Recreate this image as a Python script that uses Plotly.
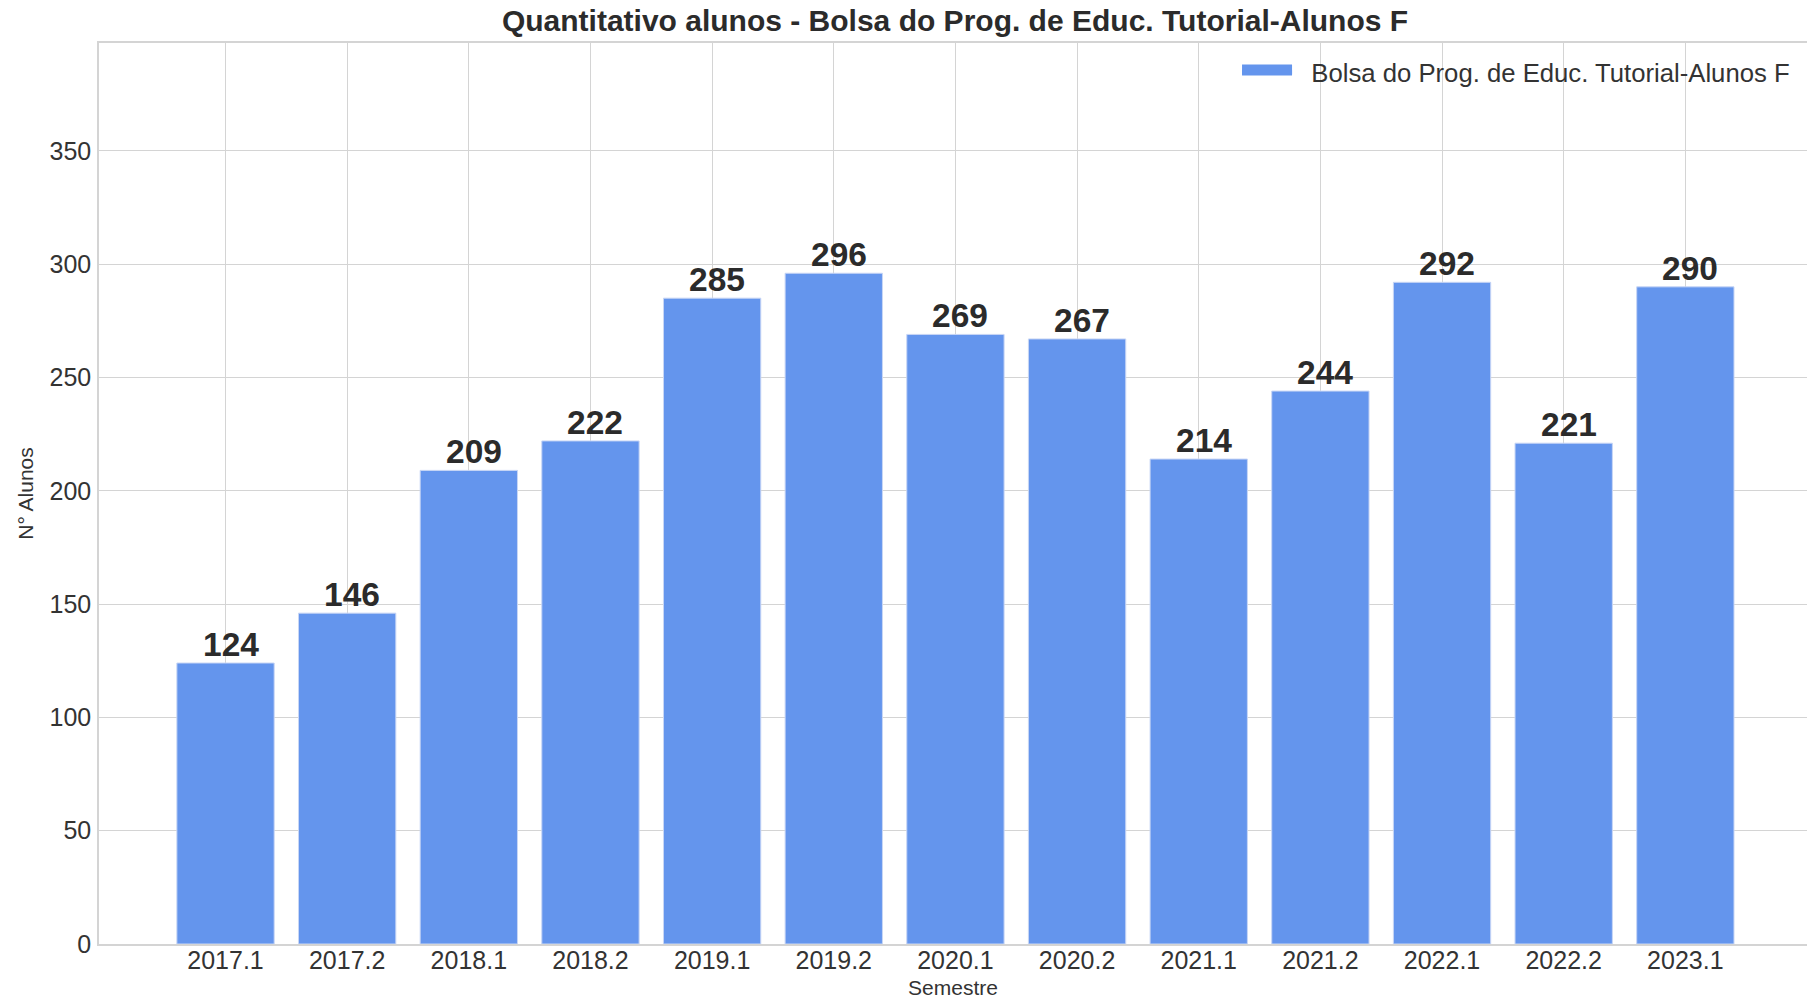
import plotly.graph_objects as go

semestres = ["2017.1", "2017.2", "2018.1", "2018.2", "2019.1", "2019.2", "2020.1",
             "2020.2", "2021.1", "2021.2", "2022.1", "2022.2", "2023.1"]
alunos = [124, 146, 209, 222, 285, 296, 269, 267, 214, 244, 292, 221, 290]
serie_nome = "Bolsa do Prog. de Educ. Tutorial-Alunos F"
titulo = "Quantitativo alunos - Bolsa do Prog. de Educ. Tutorial-Alunos F"
y_ticks = [0, 50, 100, 150, 200, 250, 300, 350]

FONT = "Liberation Sans, Arial, sans-serif"
GRID = "#d4d4d4"
TXT = "#2b2b2b"
BAR = "#6495ED"

xs = list(range(len(semestres)))

fig = go.Figure()
fig.add_trace(go.Bar(
    x=xs,
    y=alunos,
    name=serie_nome,
    width=0.8,
    marker=dict(color=BAR, line=dict(color="#c8d6f5", width=1)),
    showlegend=False,
))
# legend-only entry (wide patch like the reference)
fig.add_trace(go.Scatter(
    x=[None], y=[None], mode="lines", name="\u00a0\u00a0" + serie_nome,
    fill="toself", fillcolor=BAR,
    line=dict(color=BAR, width=10), showlegend=True, hoverinfo="skip",
))

# value labels above bars
for xi, v in zip(xs, alunos):
    fig.add_annotation(
        x=xi, y=v, text=f"<b>{v}</b>", showarrow=False,
        xanchor="center", yanchor="bottom", xshift=5, yshift=-2,
        font=dict(family=FONT, size=33.5, color=TXT),
    )

fig.update_layout(
    width=1807, height=999,
    margin=dict(l=99, r=0, t=43, b=55),
    paper_bgcolor="white", plot_bgcolor="white",
    font=dict(family=FONT, color=TXT),
    title=dict(text="<b>" + titulo + "</b>", x=0.5285, xanchor="center",
               y=0.979, yanchor="middle", font=dict(size=30, color=TXT)),
    showlegend=True,
    legend=dict(x=0.993, y=0.994, xanchor="right", yanchor="top",
                bgcolor="rgba(0,0,0,0)", font=dict(size=25.7, color="#333333"),
                itemwidth=50),
    bargap=0.2,
)
fig.update_xaxes(
    range=[-1.04, 13.0], automargin=False,
    tickmode="array", tickvals=xs, ticktext=semestres,
    tickfont=dict(size=25, color="#333333"),
    showgrid=True, gridcolor=GRID, gridwidth=1.3,
    showline=True, linecolor=GRID, linewidth=1.5, mirror=True,
    ticks="", zeroline=False, ticklabelstandoff=-7,
    title=dict(text="Semestre", font=dict(size=21, color="#333333"), standoff=11),
)
fig.update_yaxes(
    range=[0, 397.6], automargin=False,
    tickmode="array", tickvals=y_ticks,
    tickfont=dict(size=25, color="#333333"),
    showgrid=True, gridcolor=GRID, gridwidth=1.3,
    showline=True, linecolor=GRID, linewidth=1.5, mirror=True,
    ticks="", zeroline=False, ticklabelstandoff=1,
    title=dict(text="N° Alunos", font=dict(size=21, color="#333333"), standoff=10),
)

fig.write_html("out.html", post_script="document.body.style.margin='0';",
               config={"displayModeBar": False})
